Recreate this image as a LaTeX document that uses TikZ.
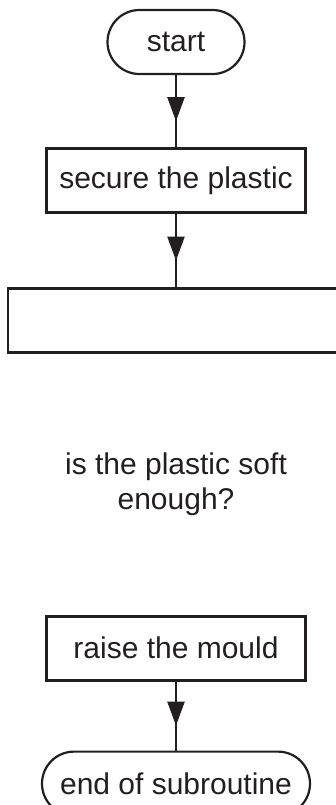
\documentclass[tikz,border=0pt]{standalone}
\usepackage{fontspec}
\setmainfont{Liberation Sans}
\usepackage{tikz}
\usetikzlibrary{positioning,arrows.meta,calc,decorations.markings}
\definecolor{ink}{RGB}{35,31,32}

\begin{document}
\begin{tikzpicture}[
  font=\fontsize{15}{17.5}\selectfont, color=ink,
  box/.style={draw, line width=1.4pt, align=center, minimum height=32pt, minimum width=129.5pt, inner sep=2pt},
  term/.style={draw, line width=1.1pt, rounded corners=16pt, align=center, minimum height=32pt, inner sep=2pt},
  lbl/.style={align=center, inner sep=0pt},
  arr/.style={line width=1.1pt, decoration={markings, mark=at position 0.64 with {\arrow{Triangle[width=8.5pt,length=12pt]}}}, postaction={decorate}}
]
\useasboundingbox (0,0) rectangle (168pt,-402.5pt);
\node[term, minimum width=68.5pt] (start) at (88pt,-21pt) {start};
\node[box, below=36pt of start] (secure) {secure the plastic};
\node[box, minimum width=168pt, below=36.5pt of secure] (heat) {};
\node[box, below=130.5pt of heat] (raise) {raise the mould};
\node[lbl] (soft) at ($(heat.south)!0.5!(raise.north)$) {is the plastic soft\\enough?};
\node[term, minimum width=134pt, below=34.5pt of raise] (endsub) {end of subroutine};

\draw[arr] (start) -- (secure);
\draw[arr] (secure) -- (heat);
\draw[arr] (raise) -- (endsub);
\end{tikzpicture}
\end{document}
